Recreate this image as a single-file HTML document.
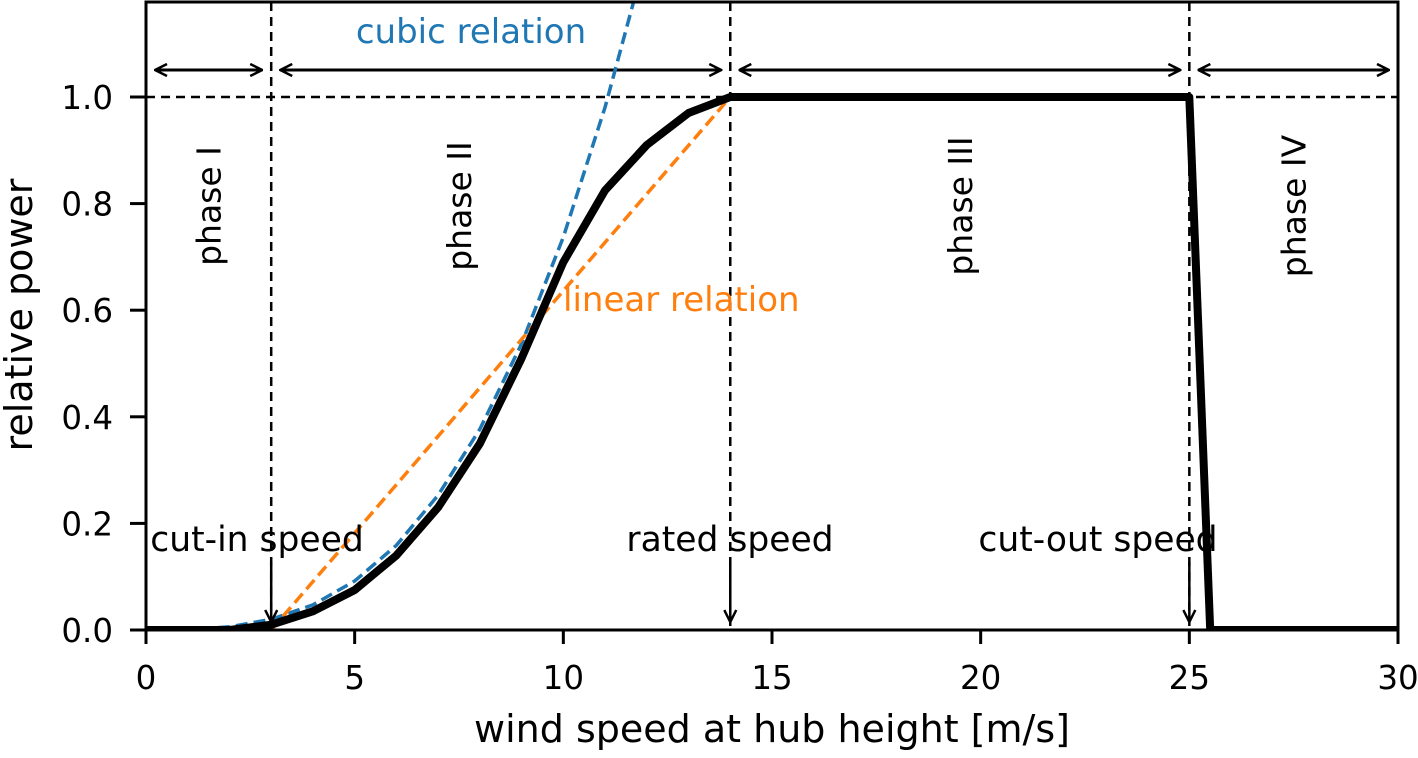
<!DOCTYPE html>
<html><head><meta charset="utf-8"><style>
body{margin:0;background:#fff}
svg text{font-family:"DejaVu Sans","Liberation Sans",sans-serif}
</style></head><body>
<svg id="chart" width="1418" height="753" xmlns="http://www.w3.org/2000/svg">
<defs>
<marker id="ah" viewBox="0 0 14 14" refX="13" refY="7" markerWidth="14" markerHeight="14" markerUnits="userSpaceOnUse" orient="auto-start-reverse">
<path d="M1,1 L13,7 L1,13" fill="none" stroke="#000" stroke-width="2.5"/></marker>
</defs>
<g id="plot"></g>
</svg>
<script>
const speeds=[0,1,2,3,4,5,6,7,8,9,10,11,12,13,14,25,25.5,30];
const power=[0,0,0,0.01,0.035,0.075,0.14,0.23,0.35,0.51,0.69,0.825,0.91,0.97,1.0,1.0,0,0];
const cubicSpeeds=[0,1,2,3,4,5,6,7,8,9,10,11,12];
const cubicPower=[0,0.0007,0.006,0.02,0.047,0.092,0.159,0.253,0.377,0.537,0.737,0.981,1.27];
const linearSpeeds=[3,14];
const linearPower=[0,1];
const xTicks=[0,5,10,15,20,25,30];
const yTicks=[0,0.2,0.4,0.6,0.8,1.0];
const phaseBounds=[3,14,25];
const phaseNames=["phase I","phase II","phase III","phase IV"];
const phaseLabelSpeeds=[1.5,7.5,19.5,27.5];
const speedNames=["cut-in speed","rated speed","cut-out speed"];

const X0=146,X1=1398,Y0=630,Y1=97,TOP=2;
const sx=v=>X0+(X1-X0)*v/30;
const sy=p=>Y0-(Y0-Y1)*p;
const NS="http://www.w3.org/2000/svg";
const g=document.getElementById('plot');
function mk(t,a,txt){const e=document.createElementNS(NS,t);for(const k in a)e.setAttribute(k,a[k]);if(txt!==undefined)e.textContent=txt;g.appendChild(e);return e;}
const clip=document.createElementNS(NS,'clipPath');clip.setAttribute('id','cp');
const cr=document.createElementNS(NS,'rect');cr.setAttribute('x',X0);cr.setAttribute('y',TOP);cr.setAttribute('width',X1-X0);cr.setAttribute('height',Y0-TOP);clip.appendChild(cr);
document.querySelector('defs').appendChild(clip);

let e=mk('line',{x1:X0,x2:X1,y1:sy(1),y2:sy(1),stroke:'#000','stroke-width':2.5,'stroke-dasharray':'9,6'});


phaseBounds.forEach((b,i)=>{
 const l=mk('line',{x1:sx(b),x2:sx(b),y1:TOP,y2:Y0,stroke:'#000','stroke-width':2.5,'stroke-dasharray':'9,6'});
 
 
});
const edges=[0].concat(phaseBounds).concat([30]);
for(let i=0;i<4;i++){
 const a=mk('line',{x1:sx(edges[i])+9,x2:sx(edges[i+1])-9,y1:70,y2:70,stroke:'#000','stroke-width':3,'marker-start':'url(#ah)','marker-end':'url(#ah)'});
 
 
 const cx=sx(phaseLabelSpeeds[i])+12,cy=206;
 const t=mk('text',{x:cx,y:cy,'font-size':33,'text-anchor':'middle',transform:`rotate(-90 ${cx} ${cy})`},phaseNames[i]);
 
 
}
function path(xs,ys){return xs.map((v,i)=>(i?'L':'M')+sx(v).toFixed(1)+','+sy(ys[i]).toFixed(1)).join(' ');}
e=mk('path',{d:path(cubicSpeeds,cubicPower),fill:'none',stroke:'#1f77b4','stroke-width':3.5,'stroke-dasharray':'12,6','clip-path':'url(#cp)'});


e=mk('path',{d:path(linearSpeeds,linearPower),fill:'none',stroke:'#ff7f0e','stroke-width':3.5,'stroke-dasharray':'12,6'});


e=mk('path',{d:path(speeds,power),fill:'none',stroke:'#000','stroke-width':8,'stroke-linejoin':'round','clip-path':'url(#cp)'});


const annX=[257,730,1098];
phaseBounds.forEach((b,i)=>{
 const a=mk('line',{x1:sx(b),x2:sx(b),y1:562,y2:622,stroke:'#000','stroke-width':2.5,'marker-end':'url(#ah)'});
 
 
 const t=mk('text',{x:annX[i],y:551,'font-size':34.5,'text-anchor':'middle'},speedNames[i]);
 
 
});
e=mk('text',{x:471,y:43,'font-size':34,'text-anchor':'middle',fill:'#1f77b4'},'cubic relation');


e=mk('text',{x:563,y:311,'font-size':34,fill:'#ff7f0e'},'linear relation');


e=mk('rect',{x:X0,y:TOP,width:X1-X0,height:Y0-TOP,fill:'none',stroke:'#000','stroke-width':3});


xTicks.forEach(v=>{
 mk('line',{x1:sx(v),x2:sx(v),y1:Y0,y2:Y0+14,stroke:'#000','stroke-width':3});
 const t=mk('text',{x:sx(v),y:689,'font-size':32.5,'text-anchor':'middle'},String(v));
 
 
});
yTicks.forEach(v=>{
 mk('line',{x1:X0-16,x2:X0,y1:sy(v),y2:sy(v),stroke:'#000','stroke-width':3});
 const t=mk('text',{x:113,y:sy(v)+12,'font-size':32.5,'text-anchor':'end'},v.toFixed(1));
 
 
});
e=mk('text',{x:772,y:742,'font-size':38,'text-anchor':'middle'},'wind speed at hub height [m/s]');


e=mk('text',{x:32,y:315,'font-size':38,'text-anchor':'middle',transform:'rotate(-90 32 315)'},'relative power');


</script>
</body></html>
